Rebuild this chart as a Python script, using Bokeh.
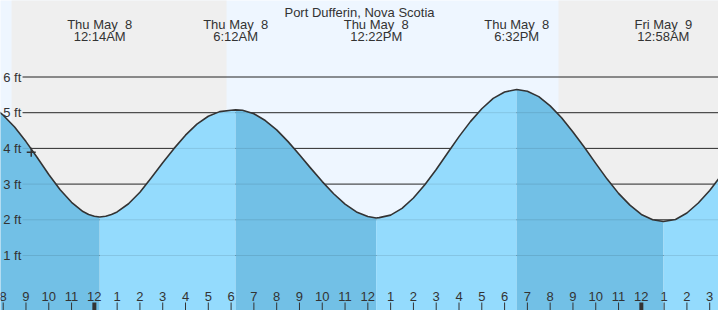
from math import pi
from bokeh.plotting import figure
from bokeh.models import Range1d, Label
from bokeh.embed import file_html
from bokeh.resources import INLINE
from bokeh.core.properties import value

# time axis: hours since Wed May 7 00:00 (local)
tide_hours = [19.5, 20.0, 20.5, 21.0, 21.5, 22.0, 22.5, 23.0, 23.5, 23.75, 24.0, 24.233,
              24.5, 24.75, 25.0, 25.5, 26.0, 26.5, 27.0, 27.5, 28.0, 28.5, 29.0, 29.5, 30.0, 30.2,
              30.5, 31.0, 31.5, 32.0, 32.5, 33.0, 33.5, 34.0, 34.5, 35.0, 35.5, 36.0, 36.367,
              36.5, 37.0, 37.5, 38.0, 38.5, 39.0, 39.5, 40.0, 40.5, 41.0, 41.5, 42.0, 42.533,
              43.0, 43.5, 44.0, 44.5, 45.0, 45.5, 46.0, 46.5, 47.0, 47.5, 48.0, 48.5, 48.967,
              49.5, 50.0, 50.5, 51.0, 51.5]
tide_feet = [5.20, 4.93, 4.60, 4.19, 3.74, 3.27, 2.84, 2.49, 2.23, 2.15, 2.10, 2.08,
             2.10, 2.15, 2.22, 2.45, 2.77, 3.18, 3.60, 4.00, 4.37, 4.68, 4.90, 5.03, 5.07, 5.08,
             5.07, 4.97, 4.78, 4.52, 4.19, 3.82, 3.44, 3.07, 2.73, 2.44, 2.22, 2.09, 2.05,
             2.06, 2.13, 2.32, 2.61, 2.98, 3.41, 3.87, 4.33, 4.75, 5.11, 5.40, 5.58, 5.65,
             5.60, 5.45, 5.19, 4.86, 4.46, 4.03, 3.58, 3.14, 2.74, 2.41, 2.15, 2.00, 1.95,
             2.01, 2.19, 2.47, 2.82, 3.24]

event_hours = [24.233, 30.2, 36.367, 42.533, 48.967]
event_day = ["Thu May\u00a0 8", "Thu May\u00a0 8", "Thu May\u00a0 8", "Thu May\u00a0 8", "Fri May\u00a0 9"]
event_clock = ["12:14AM", "6:12AM", "12:22PM", "6:32PM", "12:58AM"]

night_start = [20.367, 44.367]
night_end = [29.8, 52.0]

hour_ticks = list(range(20, 52))
hour_labels = ["8", "9", "10", "11", "12", "1", "2", "3", "4", "5", "6", "7",
               "8", "9", "10", "11", "12", "1", "2", "3", "4", "5", "6", "7",
               "8", "9", "10", "11", "12", "1", "2", "3"]

feet_ticks = [1, 2, 3, 4, 5, 6]
feet_labels = ["1 ft", "2 ft", "3 ft", "4 ft", "5 ft", "6 ft"]

now_hour = 21.23
now_feet = 3.89

title_text = "Port Dufferin, Nova Scotia"

X0, X1 = 19.882, 51.386
Y0, Y1 = -0.541, 8.143

DAY = "#EEF6FF"
NIGHT = "#EFEFEF"
FALL = "#72C0E6"
RISE = "#94DBFD"
INK = "#333333"
FONT = value("Liberation Sans")

p = figure(width=718, height=310, x_range=Range1d(X0, X1), y_range=Range1d(Y0, Y1),
           output_backend="svg", toolbar_location=None, min_border=0,
           x_axis_location=None, y_axis_location=None,
           background_fill_color=DAY, border_fill_color=DAY, outline_line_color=None)
p.grid.visible = False

# day / night bands
p.quad(left=night_start, right=night_end, bottom=Y0 - 1, top=Y1 + 1,
       fill_color=NIGHT, line_color=None)

# grid lines (behind the water)
grid_x0 = [20.85] * len(feet_ticks)
p.segment(x0=grid_x0, y0=feet_ticks, x1=[X1] * len(feet_ticks), y1=feet_ticks,
          line_color=INK, line_width=1)

# water fill, falling (dark) / rising (light) between extremes
bounds = [X0 - 1] + event_hours + [X1 + 1]
for a, b in zip(bounds[:-1], bounds[1:]):
    xs = [t for t in tide_hours if a <= t <= b]
    ys = [h for t, h in zip(tide_hours, tide_feet) if a <= t <= b]
    if len(xs) < 2:
        continue
    col = FALL if ys[-1] < ys[0] else RISE
    p.varea(x=xs, y1=[Y0 - 1] * len(xs), y2=ys, fill_color=col)

# faint grid over the water
p.segment(x0=grid_x0, y0=feet_ticks, x1=[X1] * len(feet_ticks), y1=feet_ticks,
          line_color="black", line_alpha=0.1, line_width=1)

# tide curve
p.line(tide_hours, tide_feet, line_color=INK, line_width=1.6, line_join="round")

# current time marker
p.scatter([now_hour], [now_feet], marker="cross", size=9, line_color=INK, line_width=1.5)

# y labels
p.text(x=[20.0] * len(feet_ticks), y=feet_ticks, text=feet_labels,
       text_font=FONT, text_font_size="13px", text_color=INK,
       text_align="left", text_baseline="middle")

# hour labels and ticks
p.text(x=hour_ticks, y=[0] * len(hour_ticks), text=hour_labels, y_offset=5,
       text_font=FONT, text_font_size="13px", text_color=INK,
       text_align="center", text_baseline="middle")
minor = [t for t in hour_ticks if t % 24 != 0]
major = [t for t in hour_ticks if t % 24 == 0]
p.ray(x=minor, y=[Y0] * len(minor), length=8, length_units="screen", angle=pi / 2,
      line_color=INK, line_width=1)
p.ray(x=major, y=[Y0] * len(major), length=8, length_units="screen", angle=pi / 2,
      line_color=INK, line_width=4)

# event labels
p.text(x=event_hours, y=[Y1] * len(event_hours), text=event_day, y_offset=24,
       text_font=FONT, text_font_size="13px", text_color=INK,
       text_align="center", text_baseline="alphabetic")
p.text(x=event_hours, y=[Y1] * len(event_hours), text=event_clock, y_offset=36,
       text_font=FONT, text_font_size="13px", text_color=INK,
       text_align="center", text_baseline="alphabetic")

p.add_layout(Label(x=359, y=298, x_units="screen", y_units="screen", text=title_text,
                   text_font="Liberation Sans", text_font_size="13px", text_color=INK,
                   text_align="center", text_baseline="alphabetic"))

open("out.html", "w").write(file_html(p, INLINE))
